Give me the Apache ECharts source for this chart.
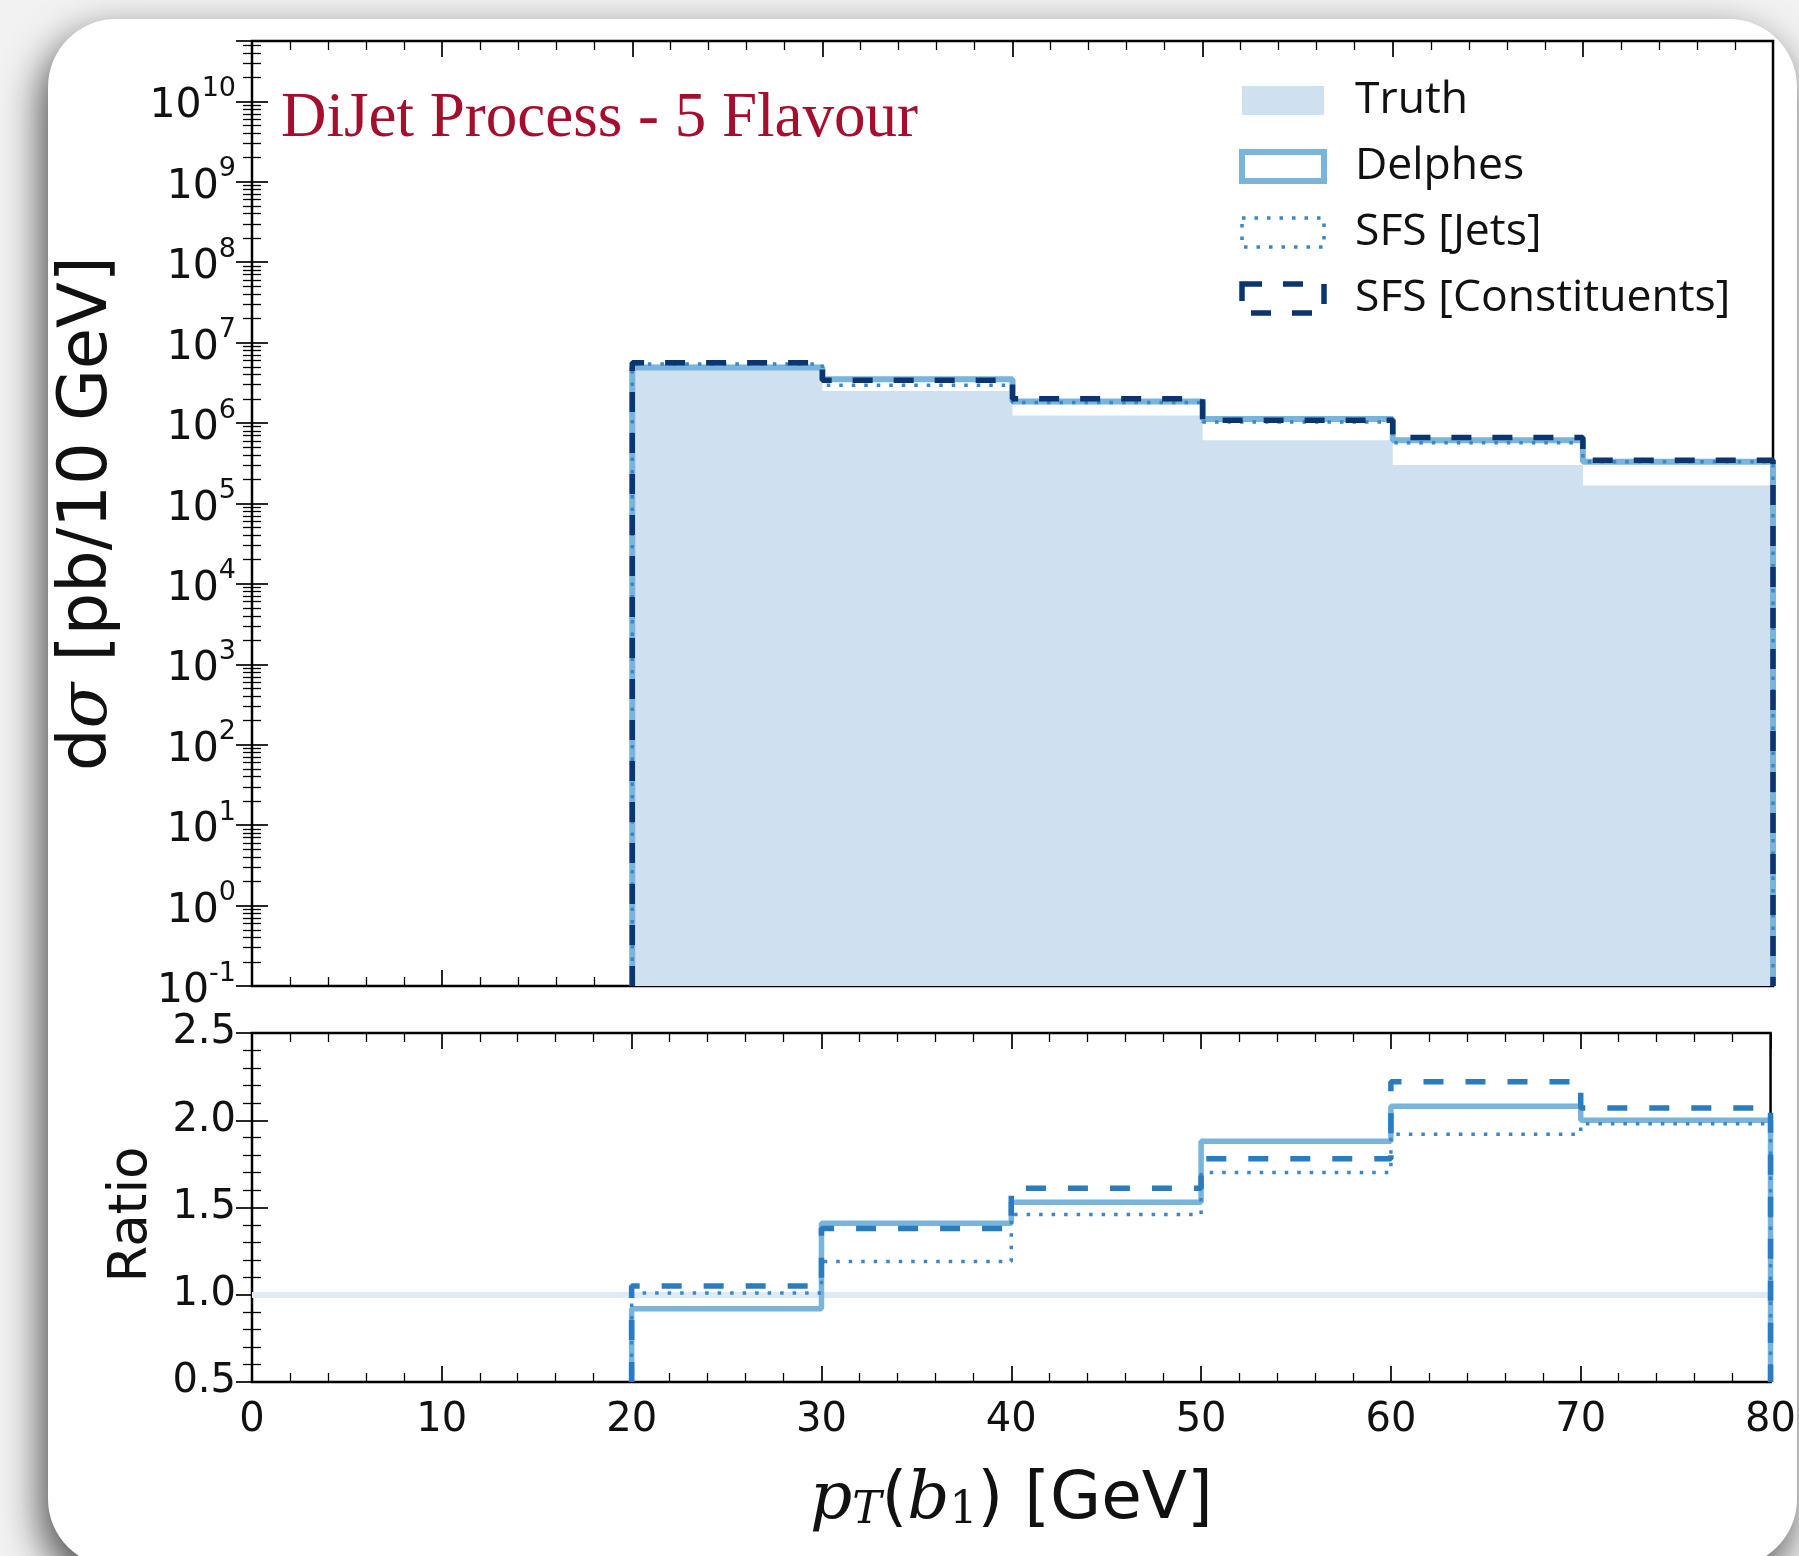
<!DOCTYPE html>
<html>
<head>
<meta charset="utf-8">
<title>DiJet Process - 5 Flavour</title>
<script src="https://cdn.jsdelivr.net/npm/echarts@6/dist/echarts.min.js"></script>
<style>
  html, body { margin: 0; padding: 0; background: #f2f2f2; }
  #chart { width: 1799px; height: 1556px; }
</style>
</head>
<body>
<div id="chart"></div>
<script>
// ---- histogram bins (GeV) ----
const BIN_EDGES = [20, 30, 40, 50, 60, 70, 80];

// ---- cross sections per bin, pb / 10 GeV ----
const TRUTH     = [5.3e6, 2.5e6, 1.24e6, 6.1e5, 3.0e5, 1.67e5];
const DELPHES   = [4.9e6, 3.5e6, 1.85e6, 1.12e6, 6.1e5, 3.3e5];
const SFS_JETS  = [5.4e6, 2.95e6, 1.8e6, 1.03e6, 5.7e5, 3.3e5];
const SFS_CONST = [5.6e6, 3.4e6, 2.0e6, 1.08e6, 6.6e5, 3.45e5];

// ---- ratios to truth per bin ----
const RATIO_DELPHES = [0.92, 1.41, 1.53, 1.88, 2.08, 2.00];
const RATIO_JETS    = [1.01, 1.19, 1.46, 1.70, 1.92, 1.98];
const RATIO_CONST   = [1.05, 1.38, 1.61, 1.78, 2.22, 2.07];

// ---- axes / tick labels ----
const X_TICKS = ['0', '10', '20', '30', '40', '50', '60', '70', '80'];
const LOG_EXPONENTS = [-1, 0, 1, 2, 3, 4, 5, 6, 7, 8, 9, 10];
const LOG_TOP_EXP = 10.75;
const RATIO_TICKS = ['0.5', '1.0', '1.5', '2.0', '2.5'];

const X_MIN = Number(X_TICKS[0]);
const X_MAX = Number(X_TICKS[X_TICKS.length - 1]);
const X_STEP = Number(X_TICKS[1]) - Number(X_TICKS[0]);
const Y_MIN = Math.pow(10, LOG_EXPONENTS[0]);
const Y_MAX = Math.pow(10, LOG_TOP_EXP);
const R_MIN = Number(RATIO_TICKS[0]);
const R_MAX = Number(RATIO_TICKS[RATIO_TICKS.length - 1]);
const R_STEP = Number(RATIO_TICKS[1]) - Number(RATIO_TICKS[0]);

// Turn bin contents into a closed step outline (rises from and drops back to the axis floor).
function histOutline(edges, vals, floor) {
  const pts = [[edges[0], floor]];
  vals.forEach((v, i) => pts.push([edges[i], v]));
  pts.push([edges[edges.length - 1], vals[vals.length - 1]]);
  pts.push([edges[edges.length - 1], floor]);
  return pts;
}

const C_TRUTH = '#cfe0f0';
const C_DELPHES = '#78b4dc';
const C_JETS = '#3a86c6';
const C_CONST = '#0b3570';
const C_RATIO_CONST = '#2b7bbf';

const TICK_FONT = 'DejaVu Sans';
const tickStyle = { show: true, inside: true, length: 16, lineStyle: { color: '#000', width: 1.7 } };
const minorStyle = { show: true, length: 9, lineStyle: { color: '#000', width: 1.3 } };

const GRID_LEFT = 252, GRID_W = 1521;

const chart = echarts.init(document.getElementById('chart'), null, { renderer: 'canvas' });

const option = {
  backgroundColor: '#f2f2f2',
  animation: false,
  graphic: [
    {
      type: 'rect', z: -10, silent: true,
      shape: { x: 48, y: 19, width: 1749, height: 1548, r: 68 },
      style: { fill: '#ffffff', shadowBlur: 40, shadowColor: 'rgba(0,0,0,0.7)', shadowOffsetX: -6, shadowOffsetY: 16 }
    }
  ],
  title: {
    text: 'DiJet Process - 5 Flavour',
    left: 276, top: 83,
    textStyle: { fontFamily: 'Liberation Serif', fontSize: 63, fontWeight: 'normal', color: '#a50f2d' }
  },
  legend: {
    orient: 'vertical',
    left: 1234, top: 72,
    itemWidth: 82, itemHeight: 29, itemGap: 19,
    selectedMode: false,
    textStyle: { fontFamily: 'Open Sans', fontSize: 44.5, color: '#111', lineHeight: 47, padding: [0, 0, 0, 26] },
    data: [
      { name: 'Truth', icon: 'rect', itemStyle: { color: C_TRUTH, borderWidth: 0 } },
      { name: 'Delphes', icon: 'rect', itemStyle: { color: 'rgba(0,0,0,0)', borderColor: C_DELPHES, borderWidth: 6 } },
      { name: 'SFS [Jets]', icon: 'rect', itemStyle: { color: 'rgba(0,0,0,0)', borderColor: C_JETS, borderWidth: 3.5, borderType: [3.5, 9] } },
      { name: 'SFS [Constituents]', icon: 'rect', itemStyle: { color: 'rgba(0,0,0,0)', borderColor: C_CONST, borderWidth: 5.5, borderType: [20, 21] } }
    ]
  },
  grid: [
    { left: GRID_LEFT, top: 41, width: GRID_W, height: 945, show: true, borderColor: '#000', borderWidth: 2.5, backgroundColor: 'rgba(0,0,0,0)' },
    { left: GRID_LEFT, top: 1033, width: GRID_W, height: 349, show: true, borderColor: '#000', borderWidth: 2.5, backgroundColor: 'rgba(0,0,0,0)' }
  ],
  xAxis: [
    { gridIndex: 0, type: 'value', position: 'bottom', min: X_MIN, max: X_MAX, interval: X_STEP,
      axisLine: { show: false }, axisTick: tickStyle, minorTick: Object.assign({ splitNumber: 5 }, minorStyle),
      axisLabel: { show: false }, splitLine: { show: false } },
    { gridIndex: 0, type: 'value', position: 'top', min: X_MIN, max: X_MAX, interval: X_STEP,
      axisLine: { show: false }, axisTick: tickStyle, minorTick: Object.assign({ splitNumber: 5 }, minorStyle),
      axisLabel: { show: false }, splitLine: { show: false } },
    { gridIndex: 1, type: 'value', position: 'bottom', min: X_MIN, max: X_MAX, interval: X_STEP,
      axisLine: { show: false }, axisTick: tickStyle, minorTick: Object.assign({ splitNumber: 5 }, minorStyle),
      axisLabel: { show: true, margin: 19, fontFamily: TICK_FONT, fontSize: 40, color: '#111',
        formatter: v => X_TICKS[Math.round((v - X_MIN) / X_STEP)] },
      splitLine: { show: false },
      name: '{p|p}{sub|T}{n|(}{p|b}{sub1|1}{n|) [GeV]}',
      nameLocation: 'middle', nameGap: 72,
      nameTextStyle: {
        rich: {
          p: { fontFamily: 'DejaVu Serif', fontStyle: 'italic', fontSize: 66, color: '#111', lineHeight: 80, verticalAlign: 'bottom' },
          sub: { fontFamily: 'DejaVu Serif', fontStyle: 'italic', fontSize: 44, color: '#111', lineHeight: 52, verticalAlign: 'bottom' },
          sub1: { fontFamily: 'DejaVu Serif', fontSize: 44, color: '#111', lineHeight: 52, verticalAlign: 'bottom' },
          n: { fontFamily: 'DejaVu Sans', fontSize: 66, color: '#111', lineHeight: 80, verticalAlign: 'bottom' }
        }
      } },
    { gridIndex: 1, type: 'value', position: 'top', min: X_MIN, max: X_MAX, interval: X_STEP,
      axisLine: { show: false }, axisTick: tickStyle, minorTick: Object.assign({ splitNumber: 5 }, minorStyle),
      axisLabel: { show: false }, splitLine: { show: false } }
  ],
  yAxis: [
    { gridIndex: 0, type: 'log', logBase: 10, position: 'left', min: Y_MIN, max: Y_MAX, interval: 1,
      axisLine: { show: false }, axisTick: tickStyle, minorTick: Object.assign({ splitNumber: 9 }, minorStyle),
      splitLine: { show: false },
      axisLabel: {
        show: true, margin: 16, showMaxLabel: false,
        formatter: v => {
          const e = Math.round(Math.log10(v));
          if (LOG_EXPONENTS.indexOf(e) < 0 || Math.abs(Math.log10(v) - e) > 1e-6) return '';
          return '{b|10}{e|' + e + '}';
        },
        rich: {
          b: { fontFamily: TICK_FONT, fontSize: 41, color: '#111', lineHeight: 52, verticalAlign: 'bottom' },
          e: { fontFamily: TICK_FONT, fontSize: 27, color: '#111', lineHeight: 27, verticalAlign: 'top' }
        }
      },
      name: '{a|d}{s|σ}{a| [pb/10 GeV]}',
      nameLocation: 'middle', nameGap: 130, nameRotate: 90,
      nameTextStyle: {
        rich: {
          a: { fontFamily: 'DejaVu Sans', fontSize: 67, color: '#111' },
          s: { fontFamily: 'DejaVu Serif', fontStyle: 'italic', fontSize: 67, color: '#111' }
        }
      } },
    { gridIndex: 0, type: 'log', logBase: 10, position: 'right', min: Y_MIN, max: Y_MAX, interval: 1,
      axisLine: { show: false }, axisTick: tickStyle, minorTick: Object.assign({ splitNumber: 9 }, minorStyle),
      splitLine: { show: false }, axisLabel: { show: false } },
    { gridIndex: 1, type: 'value', position: 'left', min: R_MIN, max: R_MAX, interval: R_STEP,
      axisLine: { show: false }, axisTick: tickStyle, minorTick: Object.assign({ splitNumber: 5 }, minorStyle),
      splitLine: { show: false },
      axisLabel: { show: true, margin: 16, fontFamily: TICK_FONT, fontSize: 40, color: '#111',
        formatter: v => RATIO_TICKS[Math.round((v - R_MIN) / R_STEP)] },
      name: 'Ratio', nameLocation: 'middle', nameGap: 93, nameRotate: 90,
      nameTextStyle: { fontFamily: 'DejaVu Sans', fontSize: 53, color: '#111', padding: [0, 14, 0, 0] } },
    { gridIndex: 1, type: 'value', position: 'right', min: R_MIN, max: R_MAX, interval: R_STEP,
      axisLine: { show: false }, axisTick: tickStyle, minorTick: Object.assign({ splitNumber: 5 }, minorStyle),
      splitLine: { show: false }, axisLabel: { show: false } }
  ],
  series: [
    // upper panel: absolute cross sections
    { name: 'Truth', type: 'line', xAxisIndex: 0, yAxisIndex: 0, step: 'end', symbol: 'none', z: 1,
      data: histOutline(BIN_EDGES, TRUTH, Y_MIN),
      lineStyle: { width: 0, opacity: 0 }, itemStyle: { color: C_TRUTH },
      areaStyle: { color: C_TRUTH, opacity: 1, origin: 'start' } },
    { name: 'Delphes', type: 'line', xAxisIndex: 0, yAxisIndex: 0, step: 'end', symbol: 'none', z: 2,
      data: histOutline(BIN_EDGES, DELPHES, Y_MIN),
      itemStyle: { color: C_DELPHES }, lineStyle: { color: C_DELPHES, width: 6 } },
    { name: 'SFS [Jets]', type: 'line', xAxisIndex: 0, yAxisIndex: 0, step: 'end', symbol: 'none', z: 3,
      data: histOutline(BIN_EDGES, SFS_JETS, Y_MIN),
      itemStyle: { color: C_JETS }, lineStyle: { color: C_JETS, width: 3.5, type: [3.5, 9] } },
    { name: 'SFS [Constituents]', type: 'line', xAxisIndex: 0, yAxisIndex: 0, step: 'end', symbol: 'none', z: 4,
      data: histOutline(BIN_EDGES, SFS_CONST, Y_MIN),
      itemStyle: { color: C_CONST }, lineStyle: { color: C_CONST, width: 5.5, type: [20, 21] } },

    // lower panel: ratios to truth
    { name: 'Delphes / Truth', type: 'line', xAxisIndex: 2, yAxisIndex: 2, step: 'end', symbol: 'none', z: 2,
      data: histOutline(BIN_EDGES, RATIO_DELPHES, R_MIN),
      itemStyle: { color: C_DELPHES }, lineStyle: { color: C_DELPHES, width: 5.5 },
      markLine: { silent: true, symbol: 'none', z: 1, label: { show: false },
        lineStyle: { color: '#deeaf6', width: 6, type: 'solid' }, data: [{ yAxis: 1 }] } },
    { name: 'SFS [Jets] / Truth', type: 'line', xAxisIndex: 2, yAxisIndex: 2, step: 'end', symbol: 'none', z: 3,
      data: histOutline(BIN_EDGES, RATIO_JETS, R_MIN),
      itemStyle: { color: C_JETS }, lineStyle: { color: C_JETS, width: 3.5, type: [3.5, 9] } },
    { name: 'SFS [Constituents] / Truth', type: 'line', xAxisIndex: 2, yAxisIndex: 2, step: 'end', symbol: 'none', z: 4,
      data: histOutline(BIN_EDGES, RATIO_CONST, R_MIN),
      itemStyle: { color: C_RATIO_CONST }, lineStyle: { color: C_RATIO_CONST, width: 5.5, type: [20, 22] } }
  ]
};

chart.setOption(option);
</script>
</body>
</html>
